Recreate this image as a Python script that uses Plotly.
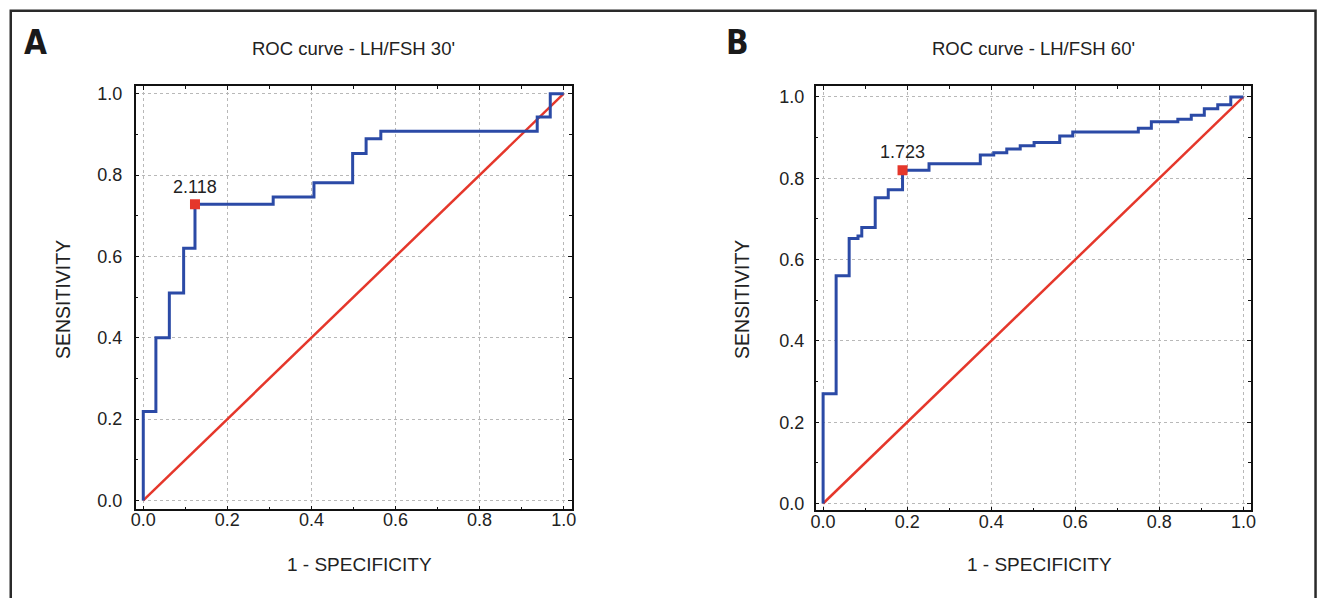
import plotly.graph_objects as go

# ---- data ----
A_fpr = [0, 0, 0.030, 0.062, 0.096, 0.123, 0.309, 0.406, 0.498, 0.530, 0.565, 0.937, 0.968, 1.0]
A_tpr = [0, 0.219, 0.400, 0.510, 0.620, 0.728, 0.746, 0.781, 0.853, 0.889, 0.908, 0.943, 1.0, 1.0]
A_cut_x = [0.123]
A_cut_y = [0.728]
A_cut_label = ["2.118"]

B_fpr = [0, 0, 0.031, 0.062, 0.083, 0.092, 0.124, 0.155, 0.189, 0.252, 0.374, 0.406, 0.437,
         0.469, 0.502, 0.563, 0.594, 0.750, 0.781, 0.844, 0.876, 0.907, 0.939, 0.970, 1.0]
B_tpr = [0, 0.270, 0.560, 0.652, 0.658, 0.679, 0.752, 0.772, 0.820, 0.836, 0.857, 0.863, 0.872,
         0.880, 0.888, 0.904, 0.914, 0.923, 0.939, 0.945, 0.955, 0.971, 0.981, 1.0, 1.0]
B_cut_x = [0.189]
B_cut_y = [0.820]
B_cut_label = ["1.723"]

diag = [0, 1]
tick_vals = [0.0, 0.2, 0.4, 0.6, 0.8, 1.0]
tick_text = ["0.0", "0.2", "0.4", "0.6", "0.8", "1.0"]
titles = ["ROC curve - LH/FSH 30'", "ROC curve - LH/FSH 60'"]
letters = ["A", "B"]
x_title = "1 - SPECIFICITY"
y_title = "SENSITIVITY"

W, H = 1326, 598
BLUE = "#2b4aa6"
RED = "#e5372b"
FONT = "Liberation Sans, Arial, sans-serif"
TXT = "#222222"

fig = go.Figure()

panels = [
    dict(fpr=A_fpr, tpr=A_tpr, cx=A_cut_x, cy=A_cut_y, cl=A_cut_label, xa="x", ya="y"),
    dict(fpr=B_fpr, tpr=B_tpr, cx=B_cut_x, cy=B_cut_y, cl=B_cut_label, xa="x2", ya="y2"),
]
for p in panels:
    fig.add_trace(go.Scatter(x=diag, y=diag, mode="lines", line=dict(color=RED, width=2.5),
                             xaxis=p["xa"], yaxis=p["ya"], showlegend=False, hoverinfo="skip"))
    fig.add_trace(go.Scatter(x=p["fpr"], y=p["tpr"], mode="lines", line=dict(color=BLUE, width=3, shape="hv"),
                             xaxis=p["xa"], yaxis=p["ya"], showlegend=False))
    fig.add_trace(go.Scatter(x=p["cx"], y=p["cy"], mode="markers+text", text=p["cl"],
                             textposition="top center", textfont=dict(family=FONT, size=18, color=TXT),
                             marker=dict(symbol="square", size=10, color=RED),
                             xaxis=p["xa"], yaxis=p["ya"], showlegend=False))

def axis(domain, rng, anchor, standoff):
    return dict(domain=domain, range=rng, anchor=anchor, tickvals=tick_vals, ticktext=tick_text,
                showline=True, linecolor="#111", linewidth=1.5, mirror="ticks",
                ticks="inside", ticklen=4, tickcolor="#111", tickwidth=1,
                minor=dict(dtick=0.1, ticks="inside", ticklen=3, tickcolor="#111", showgrid=False),
                showgrid=True, gridcolor="#b8b8b8", griddash="dot", gridwidth=1,
                zeroline=False, tickfont=dict(family=FONT, size=18, color=TXT),
                ticklabelstandoff=standoff, fixedrange=True)

def px_x(v):
    return v / W

def px_y(v):
    return 1 - v / H

fig.update_layout(
    width=W, height=H, margin=dict(l=0, r=0, t=0, b=0),
    paper_bgcolor="white", plot_bgcolor="white",
    xaxis=axis([px_x(131.7), px_x(571)], [-0.018, 1.019], "y", -7),
    yaxis=axis([px_y(511.7), px_y(84.7)], [-0.022, 1.019], "x", 8),
    xaxis2=axis([px_x(816.7), px_x(1255)], [-0.018, 1.017], "y2", -6),
    yaxis2=axis([px_y(512.7), px_y(84.7)], [-0.017, 1.027], "x2", 6),
)

ann = []
centers = [351, 1036]
ylab_x = [59, 743]
letter_x = [31, 738]
for i in range(2):
    ann.append(dict(text=titles[i], x=px_x(centers[i]), y=px_y(47), xref="paper", yref="paper",
                    showarrow=False, xanchor="center", yanchor="middle",
                    font=dict(family=FONT, size=18.5, color=TXT)))
    ann.append(dict(text=x_title, x=px_x(centers[i] + 6), y=px_y(567), xref="paper", yref="paper",
                    showarrow=False, xanchor="center", yanchor="middle",
                    font=dict(family=FONT, size=19, color=TXT)))
    ann.append(dict(text=y_title, x=px_x(ylab_x[i]), y=px_y(300), xref="paper", yref="paper",
                    showarrow=False, xanchor="center", yanchor="middle", textangle=-90,
                    font=dict(family=FONT, size=19.5, color=TXT)))
    ann.append(dict(text="<b>" + letters[i] + "</b>", x=px_x(letter_x[i]), y=px_y(41), xref="paper", yref="paper",
                    showarrow=False, xanchor="center", yanchor="middle",
                    font=dict(family="Liberation Sans Narrow, DejaVu Sans Condensed, sans-serif", size=33, color="#1a1a1a")))
fig.update_layout(annotations=ann)

fig.add_shape(type="rect", xref="paper", yref="paper",
              x0=px_x(5.8), x1=px_x(1320.5), y0=-0.05, y1=px_y(8.8),
              line=dict(color="#2a2a2a", width=2.5), fillcolor="rgba(0,0,0,0)", layer="above")

fig.write_html("out.html", config={"displayModeBar": False},
               post_script="document.body.style.margin='0';document.body.style.overflow='hidden';")
